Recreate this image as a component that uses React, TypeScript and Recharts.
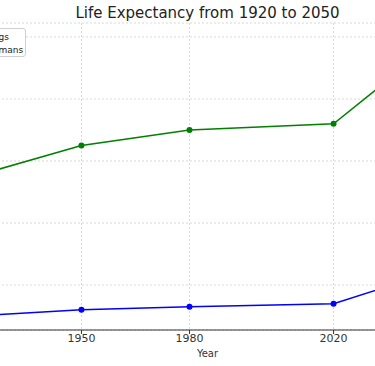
import { CartesianGrid, Legend, Line, LineChart, XAxis, YAxis } from 'recharts'

const years = [1920, 1950, 1980, 2020, 2050]
const dogs = [10, 12, 13, 14, 25]
const humans = [55, 65, 70, 72, 100]
const yTicks = [20, 40, 60, 80, 100]

const data = years.map((year, i) => ({ year, dogs: dogs[i], humans: humans[i] }))

const font = 'DejaVu Sans'

function YearTick(props: any) {
  const { x, y, payload } = props
  return (
    <text
      x={x}
      y={y}
      dy="0.71em"
      textAnchor="middle"
      style={{ fontFamily: font, fontSize: 11, fill: '#333' }}
    >
      {payload.value}
    </text>
  )
}

function LegendBox(props: any) {
  const items = props.payload || []
  return (
    <div
      style={{
        boxSizing: 'border-box',
        width: 72,
        background: 'rgba(255,255,255,0.85)',
        border: '1px solid #cfcfcf',
        borderRadius: 3,
        padding: '1px 4px 0 4px',
        fontFamily: font,
        fontSize: 9,
        color: '#222',
      }}
    >
      {items.map((entry: any) => (
        <div key={entry.value} style={{ display: 'flex', alignItems: 'center', height: 13, whiteSpace: 'nowrap' }}>
          <svg width={20} height={10} style={{ flex: 'none' }}>
            <line x1={0} y1={5} x2={20} y2={5} stroke={entry.color} strokeWidth={1.5} />
            <circle cx={10} cy={5} r={3} fill={entry.color} />
          </svg>
          <span style={{ marginLeft: 7 }}>{entry.value}</span>
        </div>
      ))}
    </div>
  )
}

export default function App() {
  return (
    <div
      style={{
        position: 'fixed',
        left: 0,
        top: 0,
        width: 375,
        height: 366,
        overflow: 'hidden',
        background: '#fff',
        fontFamily: font,
      }}
    >
      <div
        style={{
          position: 'absolute',
          left: 0,
          top: 4,
          width: 415,
          textAlign: 'center',
          fontSize: 15,
          color: '#222',
        }}
      >
        Life Expectancy from 1920 to 2050
      </div>
      <div style={{ position: 'absolute', left: -110, top: 0 }}>
        <LineChart
          width={585}
          height={366}
          data={data}
          margin={{ top: 23, right: 10, bottom: 0, left: 0 }}
          style={{ fontFamily: font }}
        >
          <CartesianGrid stroke="#d8d8d8" strokeDasharray="2 2" />
          <XAxis
            dataKey="year"
            type="number"
            domain={[1913.5, 2056.5]}
            ticks={years}
            height={36}
            tickLine={{ stroke: '#333' }}
            tickSize={4}
            tickMargin={0}
            axisLine={{ stroke: '#333' }}
            tick={<YearTick />}
            label={{
              value: 'Year',
              position: 'insideBottom',
              offset: 9,
              fill: '#333',
              fontSize: 10,
              fontFamily: font,
            }}
          />
          <YAxis
            type="number"
            domain={[5.5, 104.5]}
            ticks={yTicks}
            width={60}
            axisLine={false}
            tickLine={false}
            tick={{ fill: '#333', fontSize: 11, fontFamily: font }}
          />
          <Legend
            layout="vertical"
            align="center"
            verticalAlign="middle"
            content={LegendBox}
            wrapperStyle={{ left: 64, top: 28, width: 72 }}
          />
          <Line
            type="linear"
            dataKey="dogs"
            name="Dogs"
            stroke="#0000ff"
            strokeWidth={1.5}
            dot={{ r: 3, fill: '#0000ff', stroke: 'none' }}
            activeDot={false}
            isAnimationActive={false}
          />
          <Line
            type="linear"
            dataKey="humans"
            name="Humans"
            stroke="#008000"
            strokeWidth={1.5}
            dot={{ r: 3, fill: '#008000', stroke: 'none' }}
            activeDot={false}
            isAnimationActive={false}
          />
        </LineChart>
      </div>
    </div>
  )
}
